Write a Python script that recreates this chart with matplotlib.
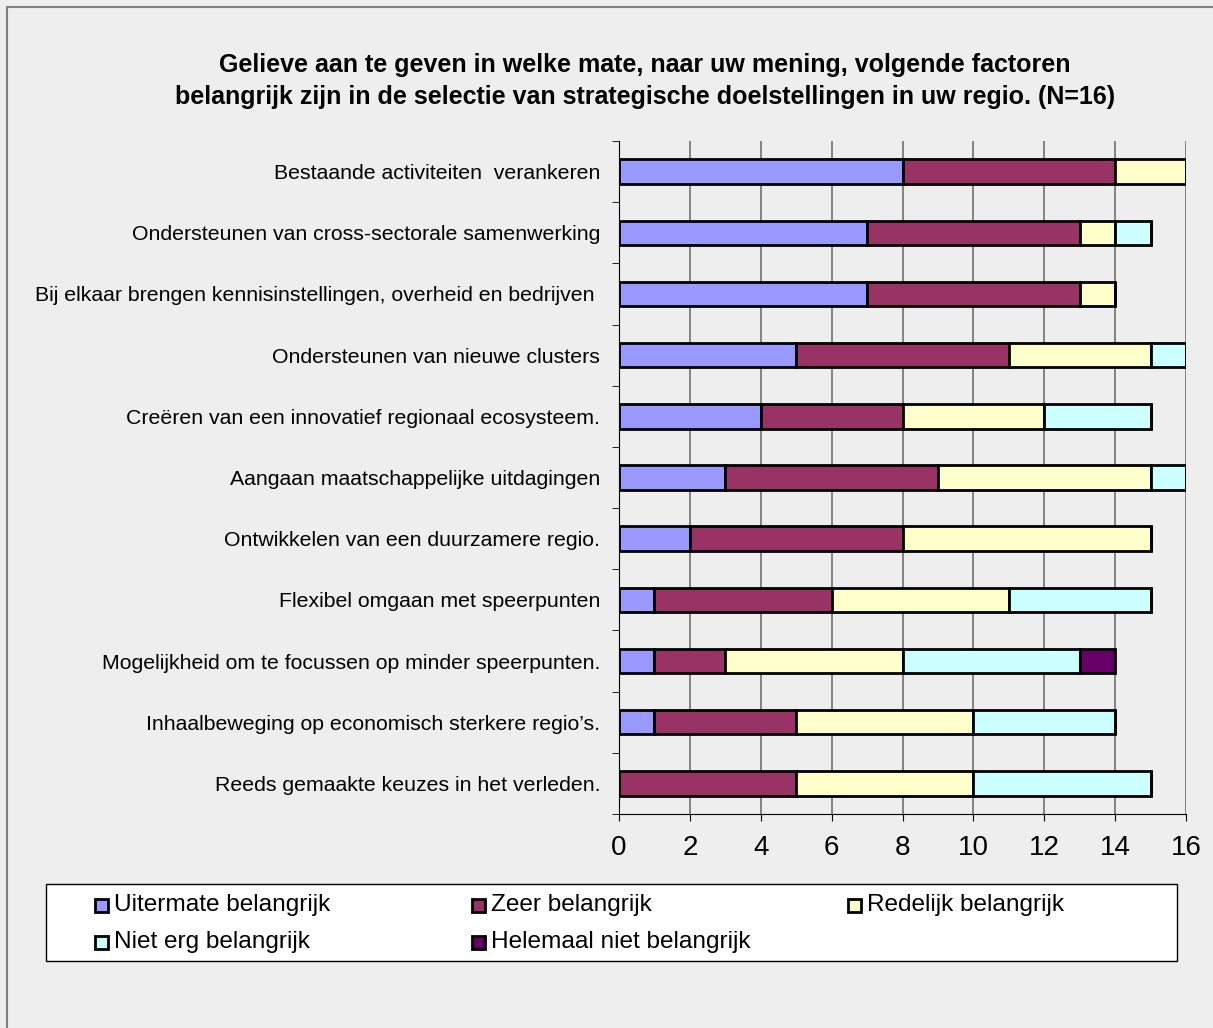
import numpy as np
import matplotlib
matplotlib.use('Agg')
import matplotlib.pyplot as plt
from matplotlib.patches import Rectangle

plt.rcParams['font.family'] = ['Liberation Sans', 'DejaVu Sans']

categories = [
    "Bestaande activiteiten  verankeren",
    "Ondersteunen van cross-sectorale samenwerking",
    "Bij elkaar brengen kennisinstellingen, overheid en bedrijven ",
    "Ondersteunen van nieuwe clusters",
    "Creëren van een innovatief regionaal ecosysteem.",
    "Aangaan maatschappelijke uitdagingen",
    "Ontwikkelen van een duurzamere regio.",
    "Flexibel omgaan met speerpunten",
    "Mogelijkheid om te focussen op minder speerpunten.",
    "Inhaalbeweging op economisch sterkere regio’s.",
    "Reeds gemaakte keuzes in het verleden.",
]

series_names = ["Uitermate belangrijk", "Zeer belangrijk", "Redelijk belangrijk",
                "Niet erg belangrijk", "Helemaal niet belangrijk"]

uitermate = [8, 7, 7, 5, 4, 3, 2, 1, 1, 1, 0]
zeer      = [6, 6, 6, 6, 4, 6, 6, 5, 2, 4, 5]
redelijk  = [2, 1, 1, 4, 4, 6, 7, 5, 5, 5, 5]
niet_erg  = [0, 1, 0, 1, 3, 1, 0, 4, 5, 4, 5]
helemaal  = [0, 0, 0, 0, 0, 0, 0, 0, 1, 0, 0]

colors = ['#9999FF', '#993366', '#FFFFCC', '#CCFFFF', '#660066']
bg = '#EEEEEE'
W, H = 1213, 1028

def px(x, y):
    # pixel coords (from top-left) -> figure fraction
    return x / W, 1 - y / H

fig = plt.figure(figsize=(W / 100, H / 100), dpi=100)
fig.patch.set_facecolor(bg)

# outer chart border
fig.patches.append(Rectangle((7 / W, -0.01), 1.02, 1 - 7 / H + 0.01,
                             transform=fig.transFigure, fill=False,
                             edgecolor='#808080', linewidth=1.5))

ax = fig.add_axes([619 / W, 1 - 814 / H, (1186 - 619) / W, (814 - 141) / H])
ax.set_facecolor(bg)

y = np.arange(len(categories))
left = np.zeros(len(categories))
for vals, col, name in zip([uitermate, zeer, redelijk, niet_erg, helemaal], colors, series_names):
    vals = np.array(vals, dtype=float)
    ax.barh(y, vals, left=left, height=0.4, color=col, edgecolor='black',
            linewidth=2, label=name, zorder=3)
    left += vals

ax.set_xlim(0, 16)
ax.set_ylim(len(categories) - 0.5, -0.5)
ax.set_xticks(np.arange(0, 17, 2))
ax.xaxis.grid(True, color='#707070', linewidth=1.2, zorder=0)
ax.set_yticks(y)
ax.set_yticklabels(categories, fontsize=15.3)
ax.set_yticks(np.arange(-0.5, len(categories), 1), minor=True)
ax.tick_params(axis='y', which='major', length=0, pad=13.5)
ax.tick_params(axis='y', which='minor', length=5, direction='out', color='black')
ax.tick_params(axis='x', length=5, direction='out', pad=10, labelsize=20)
for s in ['top', 'right']:
    ax.spines[s].set_visible(False)
ax.spines['left'].set_color('black')
ax.spines['bottom'].set_color('black')

fig.text(*px(645, 81),
         "Gelieve aan te geven in welke mate, naar uw mening, volgende factoren\n"
         "belangrijk zijn in de selectie van strategische doelstellingen in uw regio. (N=16)",
         ha='center', va='center', fontsize=18, fontweight='bold', linespacing=1.45)

# legend box, filled row by row
fig.patches.append(Rectangle(px(46, 961), (1177 - 46) / W, (961 - 884) / H,
                             transform=fig.transFigure, facecolor='white',
                             edgecolor='black', linewidth=1))
col_x = [95, 472, 848]
row_y = [905, 942]
for i, (name, col) in enumerate(zip(series_names, colors)):
    cx, ry = col_x[i % 3], row_y[i // 3]
    fig.patches.append(Rectangle(px(cx, ry + 6.5), 13 / W, 13 / H,
                                 transform=fig.transFigure, facecolor=col,
                                 edgecolor='black', linewidth=2))
    fig.text(*px(cx + 19, ry), name, ha='left', va='center', fontsize=17.6)

fig.savefig('out.png', dpi=100, facecolor=bg)
